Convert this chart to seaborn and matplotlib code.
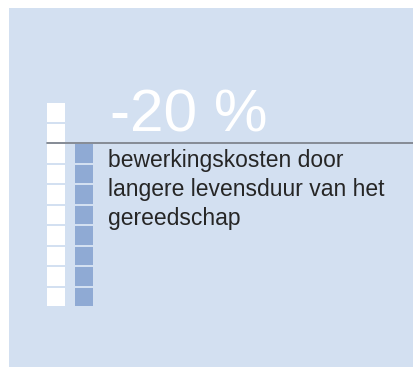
import matplotlib
matplotlib.use('Agg')
import matplotlib.pyplot as plt
import seaborn as sns
import pandas as pd
from matplotlib.patches import Rectangle
from matplotlib.lines import Line2D

# ========== DATA ==========
columns = ['voor', 'na']
block_counts = [10, 8]          # white column = 100 %, blue column = 80 %
column_colors = ['#ffffff', '#8faad4']
big_label = '-20 %'
caption = 'bewerkingskosten door\nlangere levensduur van het\ngereedschap'

panel_color = '#d3e0f1'
line_color = '#7f858e'

# one row per block
rows = []
for col, n in zip(columns, block_counts):
    for level in range(n):
        rows.append({'column': col, 'level': level})
blocks = pd.DataFrame(rows)

# ========== FIGURE ==========
sns.set_theme(style='white')
W, H = 414, 367
fig = plt.figure(figsize=(W / 100, H / 100), dpi=100)
fig.patch.set_facecolor('white')

# light blue panel (behind everything)
fig.patches.append(Rectangle((9 / W, 0), 1 - 9 / W, 1 - 8 / H,
                             transform=fig.transFigure, facecolor=panel_color,
                             edgecolor='none', zorder=-5))

# block columns: column pitch 28 px, block width 18 px, block pitch 20.5 px
pitch_x, pitch_y = 28, 20.5
bw = 18 / pitch_x
left_px, bottom_px = 47, H - 306
ax = fig.add_axes([left_px / W, bottom_px / H, (pitch_x + 18) / W, 10 * pitch_y / H])
ax.set_facecolor('none')
for i, (col, color) in enumerate(zip(columns, column_colors)):
    sub = blocks[blocks['column'] == col]
    ax.bar([i] * len(sub), [0.885] * len(sub), bottom=sub['level'], width=bw,
           color=color, linewidth=0)
ax.set_xlim(-bw / 2, 1 + bw / 2)
ax.set_ylim(0, 10)
ax.axis('off')

# separator line
fig.lines.append(Line2D([47 / W, 1], [1 - 143 / H, 1 - 143 / H],
                        transform=fig.transFigure, color=line_color, linewidth=1.3,
                        zorder=3))

# texts
fig.text(110 / W, 1 - 132 / H, big_label, color='white', fontsize=43.5,
         fontfamily=['Liberation Sans', 'DejaVu Sans'], va='baseline')
fig.text(108 / W, 1 - 224.5 / H, caption, color='#262626', fontsize=16.5,
         fontfamily=['Liberation Sans', 'DejaVu Sans'], va='baseline',
         linespacing=1.32)

fig.savefig('out.png', dpi=100)
